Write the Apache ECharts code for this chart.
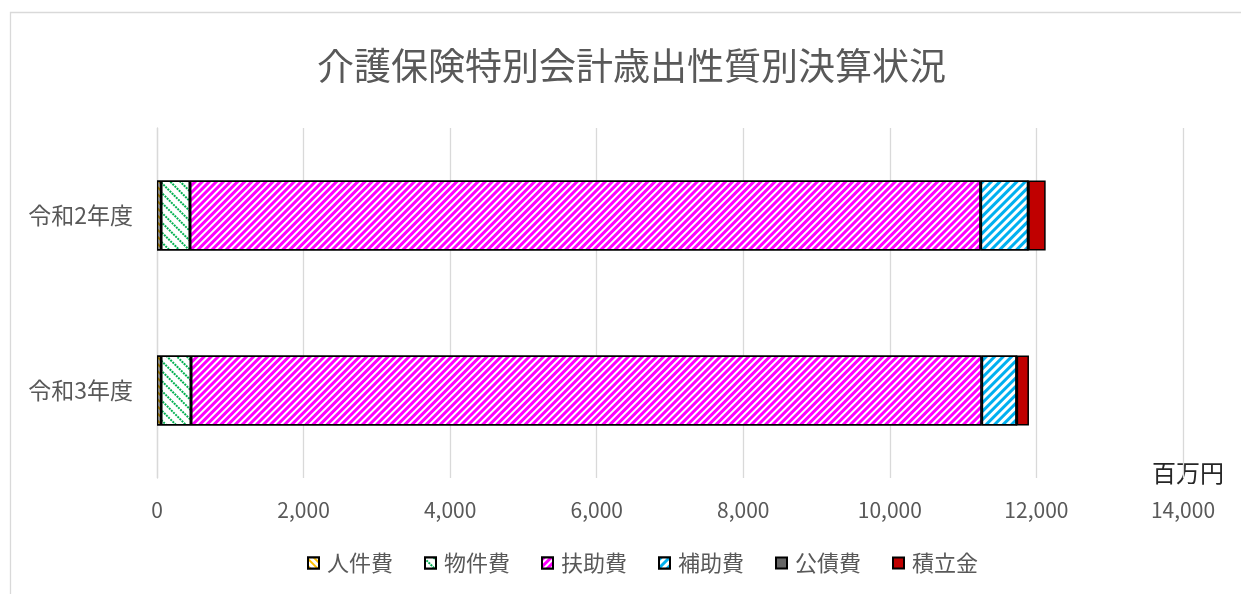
<!DOCTYPE html>
<html lang="ja">
<head>
<meta charset="utf-8">
<title>介護保険特別会計歳出性質別決算状況</title>
<script src="https://cdn.jsdelivr.net/npm/echarts@6/dist/echarts.min.js"></script>
<style>
  html, body { margin: 0; padding: 0; background: #fff; }
  #chart { width: 1241px; height: 594px; }
</style>
</head>
<body>
<div id="chart"></div>
<script>
// 年度（上から順に表示）
const years = ['令和2年度', '令和3年度'];

// 性質別の歳出額（百万円）
const jinkenhi   = [55, 55];       // 人件費
const bukkenhi   = [395, 409];     // 物件費
const fujohi     = [10789, 10789]; // 扶助費
const hojohi     = [649, 477];     // 補助費
const kousaihi   = [0, 0];         // 公債費
const tsumitate  = [238, 168];     // 積立金

// 目盛り
const axisMin = 0;
const axisMax = 14000;
const axisStep = 2000;

const seriesNames = ['人件費', '物件費', '扶助費', '補助費', '公債費', '積立金'];
const seriesValues = [jinkenhi, bukkenhi, fujohi, hojohi, kousaihi, tsumitate];

const FONT = '"Noto Sans CJK JP", "Noto Sans", sans-serif';
const GRAY = '#595959';

// 斜線模様の塗り（-PI/4 で右上がり、PI/4 で右下がり）
function stripes(color, opts) {
  return Object.assign({
    symbol: 'rect',
    symbolSize: 1,
    color: color,
    backgroundColor: '#ffffff',
    dashArrayX: [1, 0],
    dashArrayY: [3, 3],
    rotation: -Math.PI / 4
  }, opts || {});
}

const styles = [
  { color: '#ffffff', decal: stripes('#ffc000', { dashArrayY: [2, 3], rotation: Math.PI / 4 }) },
  { color: '#ffffff', decal: stripes('#00b050', { dashArrayX: [2, 1], dashArrayY: [1.5, 5], rotation: Math.PI / 4 }) },
  { color: '#ffffff', decal: stripes('#ff00ff', { dashArrayY: [3, 2] }) },
  { color: '#ffffff', decal: stripes('#00b0f0', { dashArrayY: [3, 3] }) },
  { color: '#666666' },
  { color: '#c00000' }
];

const series = seriesNames.map((name, i) => ({
  name: name,
  type: 'bar',
  stack: 'total',
  barWidth: '40%',
  data: seriesValues[i],
  itemStyle: Object.assign({ borderColor: '#000000', borderWidth: 1.5 }, styles[i]),
  emphasis: { disabled: true }
}));

const chart = echarts.init(document.getElementById('chart'), null, { renderer: 'canvas' });

chart.setOption({
  animation: false,
  backgroundColor: '#ffffff',
  title: {
    text: '介護保険特別会計歳出性質別決算状況',
    left: 312,
    top: 42,
    textStyle: { fontFamily: FONT, fontSize: 37, fontWeight: 'normal', color: GRAY }
  },
  legend: {
    data: seriesNames,
    bottom: 15,
    left: 302,
    itemWidth: 11,
    itemHeight: 11,
    itemGap: 31,
    icon: 'rect',
    textStyle: { fontFamily: FONT, fontSize: 22, color: GRAY, padding: [0, 0, 0, 3] }
  },
  grid: { left: 157, right: 58, top: 128, bottom: 116, containLabel: false },
  xAxis: {
    type: 'value',
    min: axisMin,
    max: axisMax,
    interval: axisStep,
    axisLine: { show: false },
    axisTick: { show: false },
    splitLine: { show: true, lineStyle: { color: '#d9d9d9', width: 1.3 } },
    axisLabel: {
      margin: 22,
      fontFamily: FONT,
      fontSize: 21,
      color: GRAY,
      formatter: v => v.toLocaleString('en-US')
    }
  },
  yAxis: {
    type: 'category',
    data: years,
    inverse: true,
    axisLine: { show: true, lineStyle: { color: '#d9d9d9', width: 1.3 } },
    axisTick: { show: false },
    axisLabel: { margin: 24, fontFamily: FONT, fontSize: 23, color: GRAY }
  },
  graphic: [
    {
      type: 'rect',
      silent: true,
      shape: { x: 10.5, y: 12.5, width: 1400, height: 800 },
      style: { fill: null, stroke: '#d9d9d9', lineWidth: 1.3 }
    },
    {
      type: 'text',
      left: 1152,
      top: 461,
      style: { text: '百万円', font: '24px ' + FONT, fill: '#262626' }
    }
  ],
  series: series
});
</script>
</body>
</html>
